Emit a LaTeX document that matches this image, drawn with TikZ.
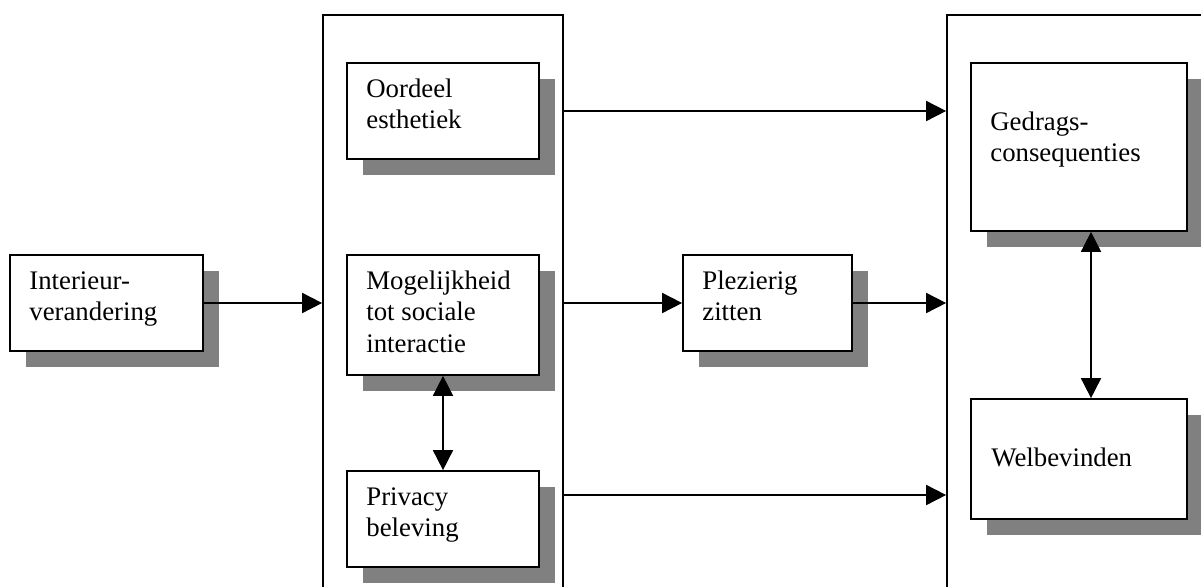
\documentclass[tikz,border=0pt]{standalone}
\usepackage{fontspec}
\setmainfont{Liberation Serif}
\usetikzlibrary{arrows.meta,shadows,calc}
\definecolor{shadowgray}{RGB}{128,128,128}
\begin{document}
\begin{tikzpicture}[x=1pt,y=-1pt,
  container/.style={draw, line width=1.7pt, fill=white, inner sep=0pt},
  inbox/.style={draw, line width=1.7pt, fill=white, inner sep=0pt,
    general shadow={fill=shadowgray, shadow xshift=16pt, shadow yshift=-16pt}},
  lbl/.style={anchor=base west, inner sep=0pt, font=\fontsize{26.8}{31.7}\selectfont},
  conn/.style={line width=1.7pt, -{Triangle[length=20pt,width=20pt]}},
  biconn/.style={line width=1.7pt, {Triangle[length=20pt,width=20pt]}-{Triangle[length=20pt,width=20pt]}}]
\fill[white] (0,0) rectangle (1201,586);
\useasboundingbox (0,0) rectangle (1201,586);
% containers
\node[container, minimum width=240pt, minimum height=685pt] (mid) at (443,357.5) {};
\node[container, minimum width=353pt, minimum height=685pt] (right) at (1123.5,357.5) {};
% inner boxes
\node[inbox, minimum width=193pt, minimum height=96pt] (inter) at (106.5,303) {};
\node[inbox, minimum width=192pt, minimum height=96pt] (oord) at (443,111) {};
\node[inbox, minimum width=192pt, minimum height=120pt] (mog) at (443,315) {};
\node[inbox, minimum width=192pt, minimum height=96pt] (priv) at (443,519) {};
\node[inbox, minimum width=169pt, minimum height=96pt] (plez) at (767.5,303) {};
\node[inbox, minimum width=216pt, minimum height=168pt] (gedr) at (1079,147) {};
\node[inbox, minimum width=216pt, minimum height=120pt] (wel) at (1079,459) {};
% labels
\node[lbl] (tinter) at ($(inter.north west)+(20,35)$) {\vtop{\hbox{Interieur-}\hbox{verandering}}};
\node[lbl] (toord) at ($(oord.north west)+(20,35)$) {\vtop{\hbox{Oordeel}\hbox{esthetiek}}};
\node[lbl] (tmog) at ($(mog.north west)+(20,35)$) {\vtop{\hbox{Mogelijkheid}\hbox{tot sociale}\hbox{interactie}}};
\node[lbl] (tpriv) at ($(priv.north west)+(20,35)$) {\vtop{\hbox{Privacy}\hbox{beleving}}};
\node[lbl] (tplez) at ($(plez.north west)+(20,35)$) {\vtop{\hbox{Plezierig}\hbox{zitten}}};
\node[lbl] (tgedr) at ($(gedr.north west)+(20,68)$) {\vtop{\hbox{Gedrags-}\hbox{consequenties}}};
\node[lbl] (twel) at ($(wel.north west)+(21,68)$) {Welbevinden};
% connectors
\coordinate (lowrow) at (0,495);
\draw[conn] (inter.east) -- (inter.east -| mid.west);
\draw[conn] (mid.east |- oord.east) -- (right.west |- oord.east);
\draw[conn] (mid.east |- plez.west) -- (plez.west);
\draw[conn] (plez.east) -- (plez.east -| right.west);
\draw[conn] (mid.east |- lowrow) -- (right.west |- lowrow);
\draw[biconn] (mog.south) -- (priv.north);
\draw[biconn] ([xshift=12pt]gedr.south) -- ([xshift=12pt]wel.north);
\end{tikzpicture}
\end{document}
